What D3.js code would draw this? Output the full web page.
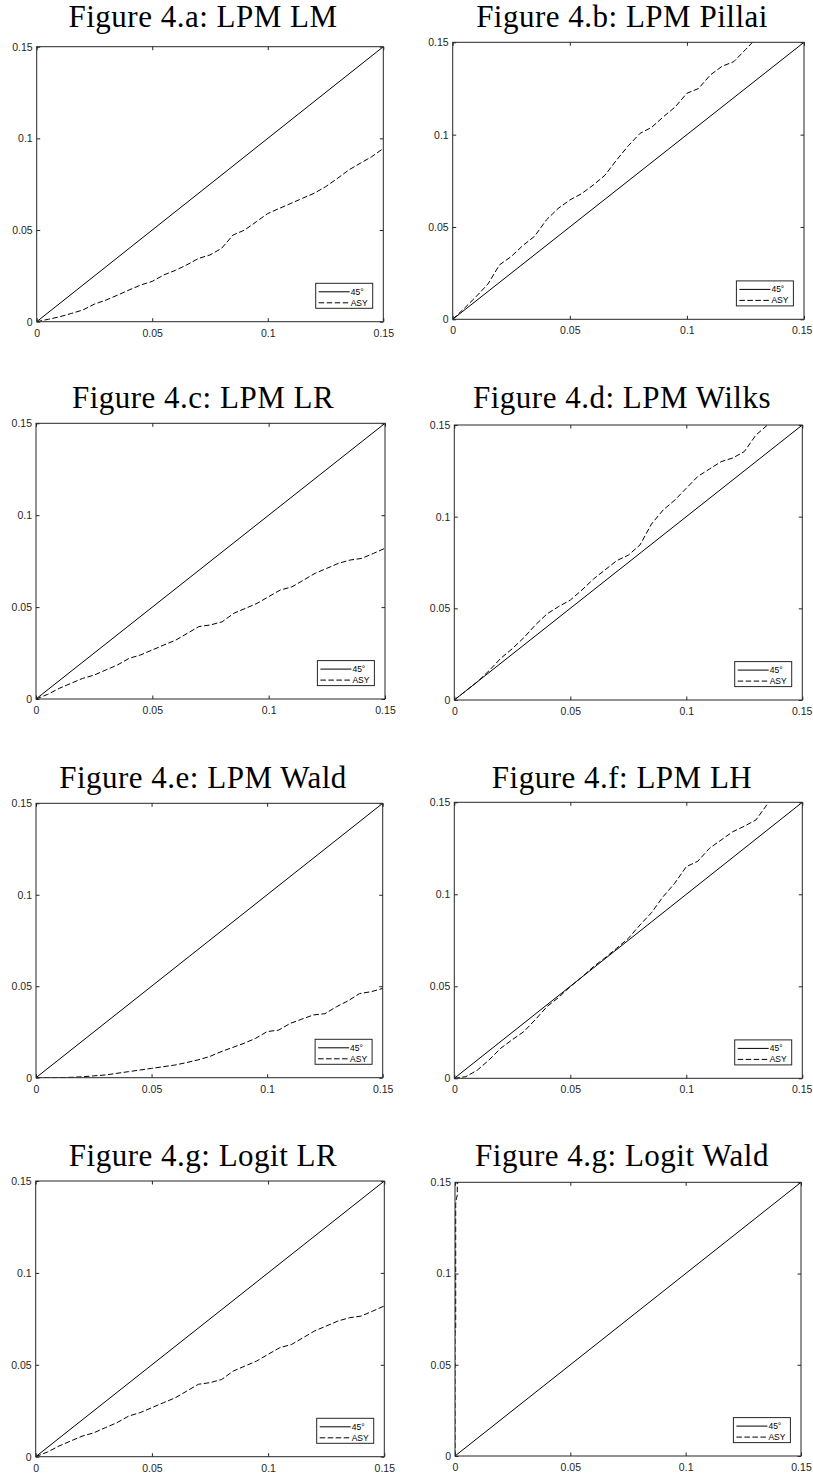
<!DOCTYPE html>
<html>
<head>
<meta charset="utf-8">
<script src="https://cdn.jsdelivr.net/npm/d3@7"></script>
<style>
    body { margin: 0; background: #fff; }
    svg { display: block; }
</style>
</head>
<body>
<div id="chart"></div>
<script>
// panel titles, in reading order
const titles = [
    'Figure 4.a: LPM LM', 'Figure 4.b: LPM Pillai',
    'Figure 4.c: LPM LR', 'Figure 4.d: LPM Wilks',
    'Figure 4.e: LPM Wald', 'Figure 4.f: LPM LH',
    'Figure 4.g: Logit LR', 'Figure 4.g: Logit Wald'
];
const ticks = [0, 0.05, 0.1, 0.15];
const legendLabels = ['45\u00b0', 'ASY'];

// 45 degree reference line
const diagX = [0, 0.15];
const diagY = [0, 0.15];

// ASY curves (nominal size on x, empirical size on y)
const gridX = [0, .005, .01, .015, .02, .025, .03, .035, .04, .045, .05, .055, .06, .065, .07, .075,
    .08, .085, .09, .095, .1, .105, .11, .115, .12, .125, .13, .135, .14, .145, .15];

const lmY = [0, .0013, .0027, .0045, .0064, .0096, .0118, .0145, .0173, .02, .022, .0255, .028, .031, .0345, .0364,
    .040, .0473, .05, .0545, .059, .0618, .0645, .0673, .07, .0736, .078, .0827, .0864, .09, .0945];

const pillaiX = [0, .005, .01, .015, .02, .025, .03, .035, .04, .045, .05, .055, .06, .065, .07, .075,
    .08, .085, .09, .095, .1, .105, .11, .115, .12, .125, .128];
const pillaiY = [0, .006, .0123, .019, .0295, .034, .040, .045, .0538, .060, .0646, .068, .0727, .078, .0863, .094,
    .1007, .104, .1097, .115, .1224, .125, .1323, .137, .1395, .146, .15];

const lrY = [0, .0025, .0058, .0085, .0112, .013, .0158, .0185, .0221, .024, .0267, .0294, .032, .0357, .0394, .0403,
    .042, .0466, .0493, .052, .0557, .0593, .061, .0647, .0684, .0711, .0738, .0756, .0765, .0792, .082];

const wilksX = [0, .005, .01, .015, .02, .025, .03, .035, .04, .045, .05, .055, .06, .065, .07, .075,
    .08, .085, .09, .095, .1, .105, .11, .115, .12, .125, .13, .135];
const wilksY = [0, .005, .01, .016, .0227, .028, .034, .041, .047, .051, .0545, .06, .066, .071, .076, .079,
    .0845, .096, .1036, .109, .1155, .122, .126, .13, .132, .1355, .1445, .15];

const waldY = [0, 0, 0, .0002, .0005, .001, .0015, .0024, .0033, .0042, .0051, .006, .0069, .0082, .0097, .0115,
    .0142, .0165, .0188, .0215, .0252, .026, .0297, .032, .0343, .035, .0388, .042, .046, .047, .0488];

const lhX = [0, .005, .01, .015, .02, .025, .03, .035, .04, .045, .05, .055, .06, .065, .07, .075,
    .08, .085, .09, .095, .1, .105, .11, .115, .12, .125, .13, .1355];
const lhY = [0, .0009, .0045, .01, .0163, .021, .0254, .032, .039, .044, .0498, .055, .0607, .0655, .0707, .076,
    .0833, .09, .0987, .106, .115, .118, .125, .1295, .134, .137, .1404, .15];

const logitLrY = [0, .0025, .0058, .0085, .0112, .013, .0158, .0185, .0221, .024, .0267, .0294, .032, .0357, .0394, .0403,
    .042, .0466, .0493, .052, .0557, .0593, .061, .0647, .0684, .0711, .0738, .0756, .0765, .0792, .082];

const logitWaldX = [0, 0, .0003, .0003, .0006, .001, .001];
const logitWaldY = [0, .067, .07, .138, .141, .143, .15];

const asyX = [gridX, pillaiX, gridX, wilksX, gridX, lhX, gridX, logitWaldX];
const asyY = [lmY, pillaiY, lrY, wilksY, waldY, lhY, logitLrY, logitWaldY];

// plot boxes [left, top, right, bottom] and title anchors
const boxes = [
    [36.7, 46.7, 383.3, 321.7], [452.7, 42.3, 804, 319.3],
    [36, 423.3, 385, 699], [454.3, 425, 802.3, 700],
    [36, 803.3, 382.7, 1077.7], [454.3, 802.3, 802.3, 1078.3],
    [35.7, 1181, 384.3, 1456.7], [455, 1182.3, 801, 1456]
];
const titleY = [26.7, 26.7, 408.3, 408.3, 788.3, 788.3, 1166, 1166];
const titleX = [203, 622];

const W = 813, H = 1477;
const axisColor = '#262626';

const svg = d3.select('#chart').append('svg').attr('width', W).attr('height', H);

titles.forEach((t, i) => {
    const [l, tp, r, b] = boxes[i];
    const x = d3.scaleLinear().domain([0, 0.15]).range([l, r]);
    const y = d3.scaleLinear().domain([0, 0.15]).range([b, tp]);

    svg.append('text')
        .attr('x', titleX[i % 2]).attr('y', titleY[i])
        .attr('text-anchor', 'middle')
        .style('font-family', '"Liberation Serif", "DejaVu Serif", serif')
        .style('font-size', '31px')
        .style('letter-spacing', '0.5px')
        .attr('fill', '#000')
        .text(t);

    const g = svg.append('g');

    // clip the curves to the axes box
    const clipId = 'clip' + i;
    g.append('clipPath').attr('id', clipId)
        .append('rect').attr('x', l).attr('y', tp).attr('width', r - l).attr('height', b - tp);

    const line = d3.line().x(d => x(d[0])).y(d => y(d[1]));

    g.append('path')
        .datum(diagX.map((v, k) => [v, diagY[k]]))
        .attr('d', line)
        .attr('fill', 'none').attr('stroke', '#000').attr('stroke-width', 1)
        .attr('clip-path', `url(#${clipId})`);

    g.append('path')
        .datum(asyX[i].map((v, k) => [v, asyY[i][k]]))
        .attr('d', line)
        .attr('fill', 'none').attr('stroke', '#000').attr('stroke-width', 1)
        .attr('stroke-dasharray', '5.5,2.5')
        .attr('clip-path', `url(#${clipId})`);

    // axes, ticks pointing inward on all four sides
    const fmt = d => String(d);
    const styleAxis = sel => {
        sel.select('.domain').remove();
        sel.selectAll('line').attr('stroke', axisColor);
        sel.selectAll('text')
            .style('font-family', '"Liberation Sans", Arial, sans-serif')
            .style('font-size', '10.5px')
            .attr('fill', axisColor);
    };

    const xAxis = g.append('g').attr('transform', `translate(0,${b})`)
        .call(d3.axisBottom(x).tickValues(ticks).tickFormat(fmt).tickSizeInner(-3.5).tickSizeOuter(0).tickPadding(7.5))
        .call(styleAxis);
    g.append('g').attr('transform', `translate(${l},0)`)
        .call(d3.axisLeft(y).tickValues(ticks).tickFormat(fmt).tickSizeInner(-3.5).tickSizeOuter(0).tickPadding(4))
        .call(styleAxis);
    g.append('g').attr('transform', `translate(0,${tp})`)
        .call(d3.axisTop(x).tickValues(ticks).tickFormat('').tickSizeInner(-3.5).tickSizeOuter(0))
        .call(styleAxis);
    g.append('g').attr('transform', `translate(${r},0)`)
        .call(d3.axisRight(y).tickValues(ticks).tickFormat('').tickSizeInner(-3.5).tickSizeOuter(0))
        .call(styleAxis);

    // keep the last x label inside the page
    xAxis.selectAll('.tick').each(function () {
        const box = this.getBBox();
        const m = this.getCTM();
        const right = m.e + box.x + box.width;
        if (right > W) d3.select(this).select('text').attr('dx', W - right - 0.5);
    });

    g.append('rect')
        .attr('x', l).attr('y', tp).attr('width', r - l).attr('height', b - tp)
        .attr('fill', 'none').attr('stroke', axisColor).attr('stroke-width', 1);

    // legend box in the lower right corner
    const lw = 57, lh = 25;
    const lx = r - 10.6 - lw, ly = b - 13.4 - lh;
    const lg = g.append('g').attr('transform', `translate(${lx},${ly})`);
    lg.append('rect').attr('width', lw).attr('height', lh)
        .attr('fill', '#fff').attr('stroke', axisColor).attr('stroke-width', 1);
    legendLabels.forEach((lab, k) => {
        const yy = 8.5 + k * 11;
        lg.append('line').attr('x1', 3).attr('x2', 34).attr('y1', yy).attr('y2', yy)
            .attr('stroke', '#000').attr('stroke-width', 1)
            .attr('stroke-dasharray', k === 1 ? '5.5,2.5' : null);
        lg.append('text').attr('x', 35).attr('y', yy + 3)
            .style('font-family', '"Liberation Sans", Arial, sans-serif')
            .style('font-size', '8.5px')
            .attr('fill', '#000')
            .text(lab);
    });
});
</script>
</body>
</html>
